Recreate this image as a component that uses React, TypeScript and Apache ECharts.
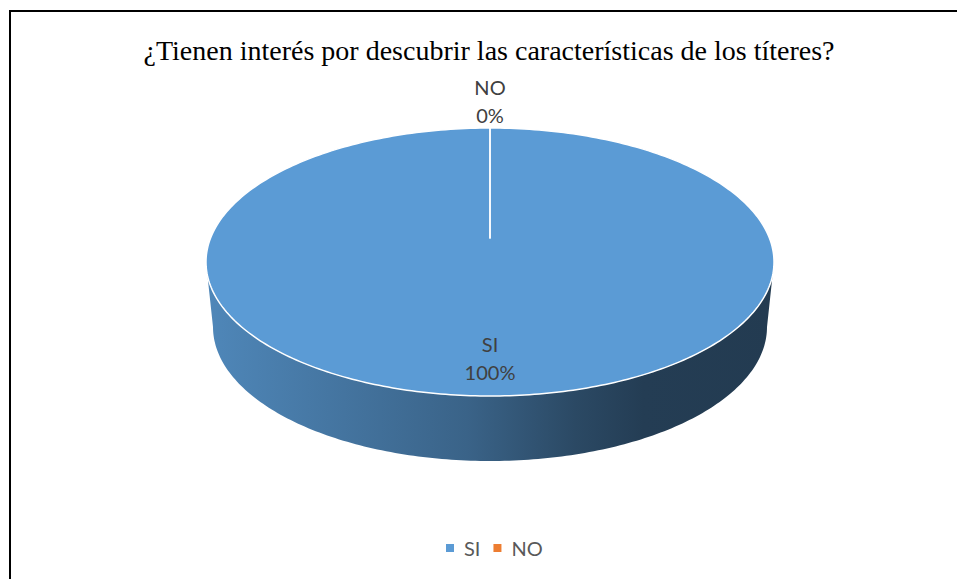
import React, { useEffect, useRef } from "react";
import * as echarts from "echarts";

const chartTitle = "¿Tienen interés por descubrir las características de los títeres?";
const categories = ["SI", "NO"];
const values = [100, 0];
const colors = ["#5b9bd5", "#ed7d31"];

// geometry of the 3D pie (layout, not data)
const CX = 490;
const CY = 262;
const RX = 284;
const RY = 134;
const DEPTH = 65;
const RX_BOTTOM = 277;
const APEX_Y = CY - 24;

function shade(hex: string, f: number): string {
  const n = parseInt(hex.slice(1), 16);
  const r = Math.round(((n >> 16) & 255) * f);
  const g = Math.round(((n >> 8) & 255) * f);
  const b = Math.round((n & 255) * f);
  return `rgb(${r},${g},${b})`;
}

function pt(a: number, rx: number, cy: number): number[] {
  return [CX + rx * Math.sin(a), cy - RY * Math.cos(a)];
}

function arcPoints(a1: number, a2: number, rx: number, cy: number): number[][] {
  const n = Math.max(2, Math.ceil((a2 - a1) / (Math.PI / 180)));
  const out: number[][] = [];
  for (let k = 0; k <= n; k++) {
    const a = a1 + ((a2 - a1) * k) / n;
    out.push(pt(a, rx, cy));
  }
  return out;
}

export default function App() {
  const ref = useRef<HTMLDivElement>(null);

  useEffect(() => {
    if (!ref.current) return;
    const chart = echarts.init(ref.current, null, { renderer: "svg" });
    const total = values.reduce((s, v) => s + v, 0);

    const makeRender = (idx: number) => (params: any, api: any) => {
      const before = values.slice(0, idx).reduce((s, v) => s + v, 0);
      const start = (before / total) * Math.PI * 2;
      const end = start + (values[idx] / total) * Math.PI * 2;
      const base = colors[idx];
      const children: any[] = [];

      // side wall (front half only)
      const s = Math.max(start, Math.PI / 2);
      const e = Math.min(end, (Math.PI * 3) / 2);
      if (e > s) {
        const topPts = arcPoints(s, e, RX, CY);
        const botPts = arcPoints(s, e, RX_BOTTOM, CY + DEPTH).reverse();
        children.push({
          type: "polygon",
          shape: { points: topPts.concat(botPts) },
          style: {
            fill: {
              type: "linear",
              x: 0,
              y: 0,
              x2: 1,
              y2: 0,
              colorStops: [
                { offset: 0, color: shade(base, 0.87) },
                { offset: 0.46, color: shade(base, 0.64) },
                { offset: 0.65, color: shade(base, 0.47) },
                { offset: 0.77, color: shade(base, 0.395) },
                { offset: 1, color: shade(base, 0.38) },
              ],
            },
            stroke: null,
          },
        });
      }

      // top face
      const topFace = [[CX, APEX_Y]].concat(arcPoints(start, end, RX, CY));
      children.push({
        type: "polygon",
        shape: { points: topFace },
        style: { fill: base, stroke: "#ffffff", lineWidth: 1.5, lineJoin: "round" },
      });

      // label
      const pct = Math.round((values[idx] / total) * 100);
      const mid = (start + end) / 2;
      let lx: number;
      let ly: number;
      if (pct < 5) {
        lx = CX + (RX + 27) * Math.sin(mid);
        ly = CY - (RY + 27) * Math.cos(mid);
      } else {
        const edge = pt(mid, RX, CY);
        lx = CX + 0.76 * (edge[0] - CX);
        ly = APEX_Y + 0.76 * (edge[1] - APEX_Y);
      }
      children.push({
        type: "text",
        x: lx,
        y: ly,
        z2: 10,
        style: {
          text: `${categories[idx]}\n${pct}%`,
          fill: "#404040",
          fontFamily: "Lato",
          fontSize: 20,
          lineHeight: 28,
          align: "center",
          verticalAlign: "middle",
        },
      });

      return { type: "group", children };
    };

    chart.setOption({
      animation: false,
      backgroundColor: "#ffffff",
      color: colors,
      legend: {
        data: categories,
        left: 446,
        top: 538,
        padding: 0,
        itemGap: 13,
        itemWidth: 18,
        itemHeight: 8,
        icon: "path://M0 0H10V10H0Z",
        textStyle: { color: "#595959", fontFamily: "Lato", fontSize: 20, lineHeight: 20 },
      },
      graphic: [
        {
          type: "rect",
          shape: { x: 10, y: 11, width: 1200, height: 1200 },
          style: { fill: "none", stroke: "#000000", lineWidth: 2 },
          silent: true,
        },
        {
          type: "text",
          x: 489,
          y: 50,
          style: {
            text: chartTitle,
            fill: "#000000",
            fontFamily: "'Liberation Serif', 'Times New Roman', serif",
            fontSize: 28,
            align: "center",
            verticalAlign: "middle",
          },
        },
      ],
      series: categories.map((name, idx) => ({
        type: "custom",
        name,
        coordinateSystem: "none",
        itemStyle: { color: colors[idx] },
        data: [[values[idx]]],
        renderItem: makeRender(idx),
        z: idx === 0 ? 2 : 3,
      })),
    });

    return () => chart.dispose();
  }, []);

  return (
    <div
      ref={ref}
      style={{ position: "absolute", left: 0, top: 0, width: 957, height: 579 }}
    />
  );
}
